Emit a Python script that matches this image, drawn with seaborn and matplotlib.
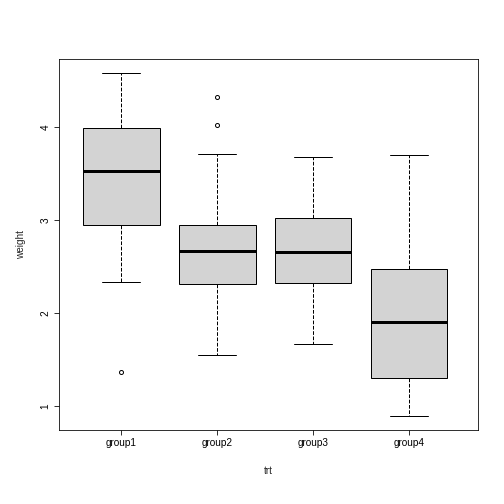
import matplotlib
matplotlib.use("Agg")
import matplotlib.pyplot as plt
import seaborn as sns
import pandas as pd

group1 = [1.36, 2.33, 2.95, 3.2, 3.53, 3.8, 3.99, 4.3, 4.58]
group2 = [1.55, 2.0, 2.2, 2.31, 2.4, 2.55, 2.66, 2.75, 2.85, 2.95, 3.71, 4.02, 4.32]
group3 = [1.67, 2.1, 2.32, 2.5, 2.65, 2.85, 3.02, 3.3, 3.68]
group4 = [0.89, 1.1, 1.30, 1.6, 1.90, 2.2, 2.47, 3.0, 3.70]
names = ["group1", "group2", "group3", "group4"]

rows = []
for n, vals in zip(names, [group1, group2, group3, group4]):
    rows += [(n, v) for v in vals]
df = pd.DataFrame(rows, columns=["trt", "weight"])

sns.set_style("ticks")
plt.rcParams['font.family'] = ['Liberation Sans', 'DejaVu Sans']
fig = plt.figure(figsize=(7, 7), dpi=72)
ax = fig.add_axes([59/504, 74/504, 419/504, 371/504])
sns.boxplot(data=df, x="trt", y="weight", order=names, color="#d3d3d3", width=0.8,
            linecolor="black", linewidth=1, saturation=1,
            medianprops=dict(linewidth=3, color="black"),
            whiskerprops=dict(linestyle="--", color="black"),
            capprops=dict(color="black"),
            flierprops=dict(marker="o", markersize=4, markerfacecolor="none",
                            markeredgecolor="black"),
            ax=ax)
ax.set_xlim(-0.65, 3.72)
ax.set_ylim(0.74, 4.73)
ax.set_yticks([1, 2, 3, 4])
for s in ax.spines.values():
    s.set_visible(True); s.set_color("black")
ax.tick_params(labelsize=10, colors="black", length=5)
for t in ax.get_yticklabels():
    t.set_rotation(90); t.set_va("center")
ax.set_xlabel("trt", fontsize=10, labelpad=18)
ax.set_ylabel("weight", fontsize=10, labelpad=14)
fig.savefig("out.png", dpi=72)
